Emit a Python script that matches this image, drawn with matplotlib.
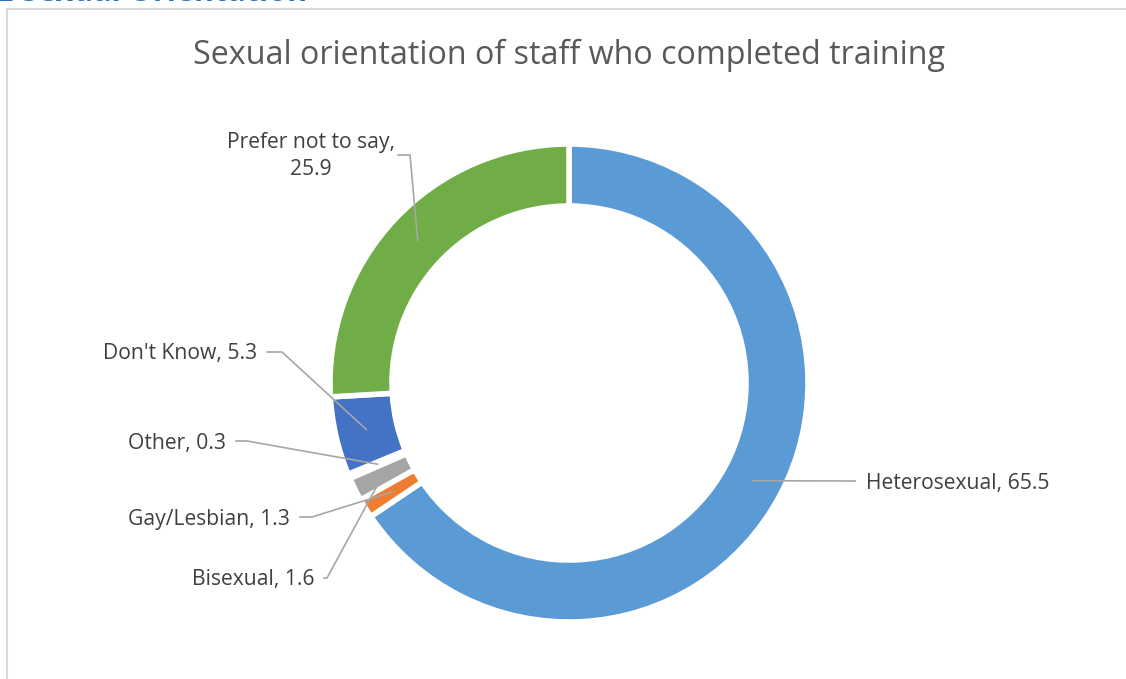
import numpy as np
import matplotlib
matplotlib.use("Agg")
import matplotlib.pyplot as plt

# chart data
categories = ["Heterosexual", "Gay/Lesbian", "Bisexual", "Other",
              "Don't Know", "Prefer not to say"]
values = [65.5, 1.3, 1.6, 0.3, 5.3, 25.9]
colors = ["#5B9BD5", "#ED7D31", "#A5A5A5", "#FFC000", "#4472C4", "#70AD47"]
label_text = ["Heterosexual, 65.5", "Gay/Lesbian, 1.3", "Bisexual, 1.6",
              "Other, 0.3", "Don't Know, 5.3", "Prefer not to say,\n25.9"]

W, H = 1126, 679
plt.rcParams["font.family"] = ["Open Sans", "DejaVu Sans"]

fig = plt.figure(figsize=(W / 100, H / 100), dpi=100)
ax = fig.add_axes([0, 0, 1, 1])

cx, cy = 569, H - 383
r_out, ring = 239, 62

wedges, _ = ax.pie(values, colors=colors, startangle=90, counterclock=False,
                   radius=r_out, center=(cx, cy),
                   wedgeprops=dict(width=ring, edgecolor="white", linewidth=4))

ax.set_xlim(0, W)
ax.set_ylim(0, H)
ax.set_aspect("equal")
ax.axis("off")

# label placement (pixel coords from top-left): text anchor, elbow x, alignment
label_pos = {
    "Heterosexual": (866, 484, 855, "left"),
    "Gay/Lesbian": (290, 519, 312, "right"),
    "Bisexual": (314, 580, 327, "right"),
    "Other": (226, 443, 247, "right"),
    "Don't Know": (257, 354, 282, "right"),
    "Prefer not to say": (311, 156, 410, "center"),
}

line_c = "#A6A6A6"
text_c = "#404040"
r_mid = r_out - ring / 2
for w, cat, txt in zip(wedges, categories, label_text):
    ang = np.deg2rad((w.theta1 + w.theta2) / 2)
    ax_x = cx + r_mid * np.cos(ang)
    ax_y = cy + r_mid * np.sin(ang)
    tx, ty, ex, ha = label_pos[cat]
    if cat == "Prefer not to say":
        ly = 155
        ax.plot([398, ex, ax_x], [H - ly, H - ly, ax_y], color=line_c, lw=1.2)
    elif ha == "left":
        ax.plot([ax_x, ex], [ax_y, H - ty + 3], color=line_c, lw=1.2)
    else:
        ax.plot([tx + 10, ex, ax_x], [H - ty + 2, H - ty + 2, ax_y],
                color=line_c, lw=1.2)
    ax.text(tx, H - ty, txt, ha=ha, va="center", fontsize=15.2, color=text_c,
            linespacing=1.35)

ax.text(569, H - 55, "Sexual orientation of staff who completed training",
        ha="center", va="center", fontsize=23.2, color="#595959")

# chart frame and cut-off heading above it
ax.plot([7, 7, W], [0, H - 9, H - 9], color="#D9D9D9", lw=1.5)
ax.text(-4, H + 7, "2 Sexual Orientation", ha="left", va="center",
        fontsize=22, fontweight="bold", color="#2E74B5", clip_on=False)

fig.savefig("out.png", dpi=100)
